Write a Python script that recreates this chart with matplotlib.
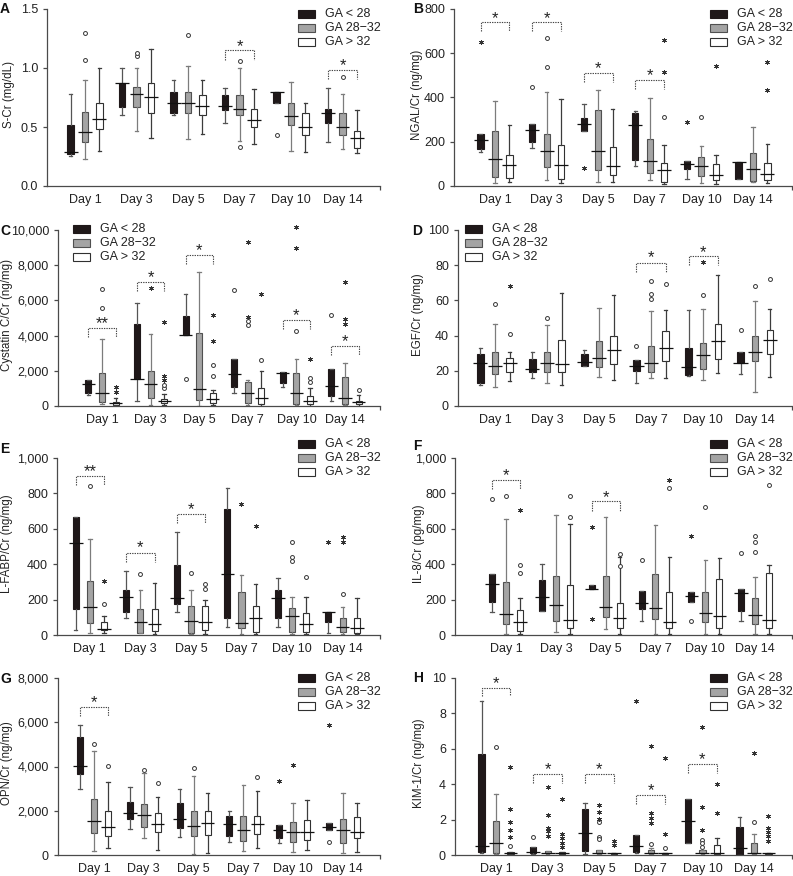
import matplotlib
matplotlib.use('Agg')
import matplotlib.pyplot as plt
from matplotlib.patches import Rectangle
import numpy as np

plt.rcParams['font.family'] = ['Liberation Sans', 'DejaVu Sans']

days = ['Day 1', 'Day 3', 'Day 5', 'Day 7', 'Day 10', 'Day 14']
groups = ['GA < 28', 'GA 28\u221232', 'GA > 32']

# ---------------- Panel A: S-Cr (mg/dL) ----------------
A_wlo = [[0.25, 0.60, 0.60, 0.53, 0.70, 0.37], [0.23, 0.47, 0.40, 0.38, 0.30, 0.31], [0.30, 0.41, 0.44, 0.36, 0.29, 0.28]]
A_q1 = [[0.27, 0.67, 0.62, 0.64, 0.70, 0.53], [0.37, 0.67, 0.62, 0.60, 0.52, 0.43], [0.48, 0.62, 0.60, 0.50, 0.43, 0.32]]
A_med = [[0.29, 0.87, 0.70, 0.68, 0.80, 0.62], [0.46, 0.78, 0.70, 0.65, 0.59, 0.50], [0.57, 0.75, 0.675, 0.56, 0.50, 0.41]]
A_q3 = [[0.52, 0.87, 0.80, 0.77, 0.80, 0.65], [0.63, 0.84, 0.80, 0.77, 0.70, 0.62], [0.70, 0.87, 0.77, 0.65, 0.62, 0.47]]
A_whi = [[0.78, 1.00, 0.90, 0.83, 0.80, 0.83], [0.90, 1.00, 1.02, 1.00, 0.88, 0.78], [1.00, 1.16, 0.90, 0.82, 0.70, 0.64]]
A_circ = [(0, 1, 1.30), (0, 1, 1.07), (1, 1, 1.10), (1, 1, 1.13), (2, 1, 1.28), (3, 1, 1.06), (3, 1, 0.33), (4, 0, 0.43), (5, 1, 0.92)]
A_star = []
A_sig = [(3, '*', 1.22, 1.15, 1.07), (5, '*', 1.06, 0.98, 0.91)]

# ---------------- Panel B: NGAL/Cr (ng/mg) ----------------
B_wlo = [[154, 174, 250, 89, 33, 30], [15, 26, 18, 26, 15, 18], [18, 15, 18, 11, 11, 14]]
B_q1 = [[165, 200, 250, 119, 76, 30], [41, 86, 74, 59, 44, 23], [38, 33, 48, 18, 26, 26]]
B_med = [[210, 253, 280, 275, 101, 107], [122, 156, 157, 112, 92, 79], [95, 94, 89, 74, 50, 53]]
B_q3 = [[233, 278, 308, 328, 113, 107], [248, 234, 343, 212, 129, 147], [142, 184, 177, 106, 98, 106]]
B_whi = [[233, 278, 369, 339, 113, 107], [384, 423, 434, 399, 183, 266], [274, 392, 346, 184, 142, 190]]
B_circ = [(1, 0, 449), (1, 1, 668), (1, 1, 540), (3, 2, 313), (4, 1, 313)]
B_star = [(0, 0, 649), (2, 0, 83), (3, 2, 517), (3, 2, 661), (4, 0, 290), (4, 2, 543), (5, 2, 562), (5, 2, 434)]
B_sig = [(0, '*', 780, 741, 699), (1, '*', 780, 741, 699), (2, '*', 555, 511, 472), (3, '*', 520, 479, 439)]

# ---------------- Panel C: Cystatin C/Cr (ng/mg) ----------------
C_wlo = [[620, 283, 4057, 717, 1057, 283], [132, 57, 0, 30, 30, 30], [38, 30, 57, 20, 20, 20]]
C_q1 = [[717, 1509, 4057, 1057, 1320, 566], [208, 434, 340, 150, 94, 94], [57, 150, 150, 94, 94, 94]]
C_med = [[1226, 1509, 4057, 1792, 1887, 1132], [755, 1226, 943, 717, 717, 434], [150, 302, 396, 434, 302, 207]]
C_q3 = [[1470, 4660, 5113, 2660, 1905, 2075], [1850, 1981, 4150, 1377, 1850, 1660], [208, 377, 717, 1000, 585, 302]]
C_whi = [[1470, 5850, 6377, 2660, 1905, 2075], [3830, 4075, 7600, 1470, 2660, 2415], [434, 660, 905, 2000, 1000, 622]]
C_circ = [(0, 1, 6660), (0, 1, 5566), (1, 2, 1000), (1, 2, 1180), (2, 0, 1509), (2, 2, 2320), (2, 2, 1717),
          (3, 0, 6566), (3, 1, 4811), (3, 1, 4623), (3, 2, 2600), (4, 1, 4245), (4, 2, 1566), (4, 2, 1377),
          (5, 0, 5190), (5, 2, 905)]
C_star = [(0, 2, 1057), (0, 2, 811), (1, 2, 1500), (1, 2, 1700), (1, 2, 4770), (1, 1, 6717), (2, 2, 5190), (2, 2, 3700),
          (3, 1, 9300), (3, 1, 5057), (3, 2, 6340), (4, 1, 10150), (4, 1, 8962), (4, 2, 2660),
          (5, 1, 7038), (5, 1, 4962), (5, 1, 4679)]
C_sig = [(0, '**', 4960, 4434, 3925), (1, '*', 7566, 7038, 6528), (2, '*', 9113, 8585, 8075),
         (4, '*', 5396, 4868, 4358), (5, '*', 3925, 3415, 2925)]

# ---------------- Panel D: EGF/Cr (ng/mg) ----------------
D_wlo = [[11.9, 15.7, 22.8, 13.2, 17.0, 18.1], [10.6, 12.8, 16.2, 15.7, 14.7, 8.1], [14.0, 11.9, 14.5, 15.7, 18.9, 16.6]]
D_q1 = [[12.8, 19.1, 22.8, 20.0, 17.5, 24.5], [18.1, 19.4, 22.3, 19.1, 20.9, 25.5], [19.4, 19.4, 23.8, 25.7, 26.6, 29.4]]
D_med = [[24.2, 20.9, 25.1, 22.6, 22.3, 24.5], [22.8, 24.5, 27.5, 24.2, 29.2, 30.4], [24.5, 23.8, 32.1, 33.2, 36.8, 37.4]]
D_q3 = [[29.8, 26.6, 29.8, 26.0, 33.0, 30.4], [30.4, 30.4, 37.2, 34.0, 36.0, 39.6], [27.5, 37.7, 39.8, 42.5, 46.8, 43.4]]
D_whi = [[33.2, 30.4, 31.7, 26.0, 54.3, 30.4], [46.8, 45.8, 55.8, 54.0, 55.0, 59.4], [30.8, 64.3, 63.2, 54.7, 74.5, 54.9]]
D_circ = [(0, 1, 58.1), (0, 2, 41.1), (1, 1, 49.8), (3, 0, 34.0), (3, 1, 70.8), (3, 1, 63.8), (3, 1, 60.9),
          (3, 2, 69.1), (4, 1, 63.2), (5, 0, 43.4), (5, 1, 68.0), (5, 2, 72.3)]
D_star = [(0, 2, 68.1), (4, 1, 81.7)]
D_sig = [(3, '*', 87.0, 81.3, 76.4), (4, '*', 90.2, 85.5, 80.2)]

# ---------------- Panel E: L-FABP/Cr (ng/mg) ----------------
E_wlo = [[28, 94, 132, 47, 47, 13], [13, 10, 8, 8, 8, 8], [9, 8, 8, 8, 8, 8]]
E_q1 = [[147, 132, 177, 94, 94, 72], [70, 13, 13, 38, 19, 19], [28, 23, 28, 19, 19, 13]]
E_med = [[519, 213, 208, 345, 208, 132], [160, 75, 79, 66, 108, 47], [32, 60, 72, 94, 60, 38]]
E_q3 = [[664, 255, 396, 711, 255, 132], [306, 147, 164, 241, 151, 98], [72, 147, 166, 164, 123, 98]]
E_whi = [[664, 362, 581, 830, 321, 132], [541, 255, 255, 340, 217, 160], [108, 296, 198, 289, 217, 208]]
E_circ = [(0, 1, 840), (0, 2, 175), (1, 1, 343), (2, 1, 349), (2, 2, 287), (2, 2, 258),
          (4, 1, 523), (4, 1, 443), (4, 1, 419), (4, 2, 325), (5, 1, 232)]
E_star = [(0, 2, 306), (3, 1, 741), (3, 2, 613), (5, 0, 523), (5, 1, 551), (5, 1, 528)]
E_sig = [(0, '**', 953, 896, 849), (1, '*', 519, 462, 415), (2, '*', 736, 683, 632)]

# ---------------- Panel F: IL-8/Cr (pg/mg) ----------------
F_wlo = [[132, 138, 258, 81, 185, 81], [5, 19, 32, 5, 5, 5], [5, 5, 5, 5, 5, 5]]
F_q1 = [[185, 138, 258, 145, 185, 138], [60, 81, 100, 89, 75, 60], [23, 38, 38, 42, 42, 38]]
F_med = [[287, 213, 258, 183, 221, 236], [117, 170, 157, 151, 126, 113], [75, 85, 94, 75, 108, 85]]
F_q3 = [[343, 311, 281, 251, 245, 258], [298, 334, 336, 343, 242, 208], [142, 281, 183, 242, 317, 353]]
F_whi = [[343, 400, 281, 251, 245, 258], [655, 679, 664, 623, 425, 325], [208, 628, 438, 443, 434, 396]]
F_circ = [(0, 0, 768), (0, 1, 783), (0, 2, 396), (0, 2, 349), (1, 2, 783), (1, 2, 666), (2, 2, 457), (2, 2, 392),
          (3, 0, 425), (3, 2, 830), (4, 0, 81), (4, 1, 723), (5, 0, 466), (5, 1, 557), (5, 1, 525), (5, 1, 468),
          (5, 2, 849)]
F_star = [(0, 2, 704), (2, 0, 608), (2, 0, 89), (3, 2, 874), (4, 0, 560)]
F_sig = [(0, '*', 928, 877, 826), (2, '*', 806, 755, 702)]

# ---------------- Panel G: OPN/Cr (ng/mg) ----------------
G_wlo = [[2974, 1177, 800, 574, 528, 1132], [196, 785, 30, 196, 151, 75], [302, 226, 106, 302, 226, 151]]
G_q1 = [[3668, 1630, 1238, 875, 755, 1132], [1011, 1283, 875, 649, 604, 558], [875, 1057, 906, 936, 679, 755]]
G_med = [[4030, 1887, 1615, 1404, 1132, 1253], [1540, 1811, 1313, 1132, 1026, 1132], [1283, 1404, 1434, 1404, 1057, 1057]]
G_q3 = [[5313, 2415, 2340, 1781, 1358, 1434], [2521, 2294, 1992, 1781, 1479, 1630], [2008, 1917, 1992, 1781, 1585, 1706]]
G_whi = [[5857, 3064, 2974, 1992, 1358, 1434], [4679, 3698, 3592, 3170, 2340, 2792], [3290, 2642, 2792, 2913, 2490, 2340]]
G_circ = [(0, 1, 5011), (0, 2, 4030), (1, 1, 3849), (1, 2, 3275), (2, 1, 3925), (3, 2, 3517), (5, 0, 574)]
G_star = [(4, 0, 3351), (4, 1, 4075), (5, 0, 5887)]
G_sig = [(0, '*', 7094, 6672, 6294)]

# ---------------- Panel H: KIM-1/Cr (ng/mg) ----------------
H_wlo = [[0.09, 0.06, 0.06, 0.09, 0.70, 0.0], [0.06, 0.06, 0.06, 0.06, 0.06, 0.06], [0.06, 0.06, 0.06, 0.06, 0.06, 0.06]]
H_q1 = [[0.15, 0.13, 0.23, 0.19, 0.70, 0.0], [0.09, 0.09, 0.09, 0.09, 0.09, 0.09], [0.06, 0.08, 0.08, 0.08, 0.06, 0.06]]
H_med = [[0.53, 0.15, 1.23, 0.53, 1.91, 0.38], [0.66, 0.13, 0.13, 0.13, 0.13, 0.13], [0.13, 0.11, 0.11, 0.09, 0.09, 0.09]]
H_q3 = [[5.72, 0.47, 2.58, 1.13, 3.15, 1.57], [1.92, 0.23, 0.28, 0.28, 0.28, 0.66], [0.19, 0.15, 0.13, 0.13, 0.57, 0.13]]
H_whi = [[8.72, 0.47, 2.92, 1.13, 3.15, 2.17], [3.45, 0.23, 0.28, 0.38, 0.28, 1.19], [0.19, 0.15, 0.13, 0.13, 0.94, 0.13]]
H_circ = [(0, 1, 6.08), (0, 2, 0.53), (1, 0, 1.04), (2, 1, 1.89), (2, 1, 1.04), (2, 1, 0.89), (3, 1, 0.62),
          (3, 2, 0.38), (4, 1, 0.85), (4, 1, 0.66), (4, 1, 0.47), (5, 1, 1.85)]
H_star = [(0, 2, 1.00), (0, 2, 1.42), (0, 2, 1.85), (0, 2, 2.60), (0, 2, 4.96),
          (1, 1, 3.87), (1, 1, 2.26), (1, 1, 1.55), (1, 1, 1.35), (1, 1, 1.10),
          (1, 2, 3.17), (1, 2, 1.19), (1, 2, 0.94), (1, 2, 0.70), (1, 2, 0.47),
          (2, 1, 2.83), (2, 1, 2.45), (2, 1, 2.04), (2, 2, 0.79), (2, 2, 0.57),
          (3, 0, 8.72), (3, 1, 6.17), (3, 1, 2.40), (3, 1, 2.08), (3, 1, 1.79), (3, 2, 5.47), (3, 2, 1.17),
          (4, 1, 1.42), (4, 1, 2.70), (4, 1, 7.23), (4, 2, 2.36), (4, 2, 4.02),
          (5, 1, 5.75), (5, 2, 2.23), (5, 2, 1.51), (5, 2, 1.32), (5, 2, 1.09), (5, 2, 0.79)]
H_sig = [(0, '*', 9.96, 9.43, 8.96), (1, '*', 5.13, 4.58, 4.09), (2, '*', 5.13, 4.58, 4.09),
         (3, '*', 3.91, 3.40, 2.89), (4, '*', 5.66, 5.15, 4.66)]

A_yt = [0.0, 0.5, 1.0, 1.5]
B_yt = [0, 200, 400, 600, 800]
C_yt = [0, 2000, 4000, 6000, 8000, 10000]
D_yt = [0, 20, 40, 60, 80, 100]
E_yt = [0, 200, 400, 600, 800, 1000]
F_yt = [0, 200, 400, 600, 800, 1000]
G_yt = [0, 2000, 4000, 6000, 8000]
H_yt = [0, 2, 4, 6, 8, 10]

# ---------------- layout / style ----------------
W, H = 793, 876
fig = plt.figure(figsize=(W / 100, H / 100), dpi=100)

OFF = [-0.28, 0.0, 0.28]
FACE = ['#1f1819', '#a4a4a4', '#ffffff']
EDGE = ['#1f1819', '#505050', '#303030']
WHISK = ['#555555', '#7c7c7c', '#3c3c3c']
AXC = '#4a4a4a'


def fig_rect(l, r, t, b):
    return [l / W, 1 - b / H, (r - l) / W, (b - t) / H]


def fmt_tick(v, style):
    if style == 'dec':
        return f'{v:.1f}'
    return f'{int(v):,}'


def draw_panel(letter, ylabel, wlo, q1, med, q3, whi, circ, star, sig, yt, style,
               l, r, t, b, xl, leg_x, leg_y, lab_x):
    ax = fig.add_axes(fig_rect(l, r, t, b))
    for g in range(3):
        pos = np.arange(1, 7) + OFF[g]
        st = [dict(med=med[g][d], q1=q1[g][d], q3=q3[g][d], whislo=wlo[g][d], whishi=whi[g][d], fliers=[])
              for d in range(6)]
        ax.bxp(st, positions=pos, widths=0.12, capwidths=0.07, patch_artist=True, showfliers=False,
               manage_ticks=False,
               boxprops=dict(facecolor=FACE[g], edgecolor=EDGE[g], linewidth=0.8),
               whiskerprops=dict(color=WHISK[g], linewidth=0.9),
               capprops=dict(color=WHISK[g], linewidth=0.9),
               medianprops=dict(linewidth=0))
        ax.hlines(med[g], pos - 0.135, pos + 0.135, colors='#111111', linewidth=0.9, zorder=4)
    for d, g, v in circ:
        ax.plot(d + 1 + OFF[g], v, marker='o', ms=2.8, mfc='white', mec='#333333', mew=0.7,
                ls='none', clip_on=False, zorder=5)
    for d, g, v in star:
        ax.plot(d + 1 + OFF[g], v, marker=(6, 2, 0), ms=3.4, color='#333333', mew=0.6,
                ls='none', clip_on=False, zorder=5)
    for d, lab, ys, ytop, yend in sig:
        x0, x1 = d + 1 + OFF[0], d + 1 + OFF[2]
        ax.plot([x0, x0, x1, x1], [yend, ytop, ytop, yend], ls=(0, (1.2, 1.0)), color='#444444',
                lw=0.8, clip_on=False)
        ax.annotate(lab, xy=((x0 + x1) / 2, ys), xytext=(0, -6.8), textcoords='offset points',
                    ha='center', va='baseline', fontsize=12, color='#222222', annotation_clip=False)
    ax.set_xlim(*xl)
    ax.set_ylim(yt[0], yt[-1])
    ax.set_yticks(yt)
    ax.set_yticklabels([fmt_tick(v, style) for v in yt], fontsize=9, color='#222222')
    ax.set_xticks(np.arange(1, 7))
    ax.set_xticklabels(days, fontsize=9, color='#222222')
    ax.tick_params(axis='x', length=0, pad=6)
    ax.tick_params(axis='y', length=3, width=0.9, color=AXC, pad=3.5)
    ax.set_xticks([xl[1]], minor=True)
    ax.tick_params(axis='x', which='minor', length=3, width=0.9, color=AXC)
    for s in ['top', 'right']:
        ax.spines[s].set_visible(False)
    for s in ['left', 'bottom']:
        ax.spines[s].set_color(AXC)
        ax.spines[s].set_linewidth(0.9)
    # panel letter and y label
    fig.text(lab_x[0] / W, 1 - lab_x[1] / H, letter, fontsize=10, fontweight='bold',
             ha='left', va='top', color='#111111')
    fig.text(lab_x[2] / W, 1 - ((t + b) / 2 - 3) / H, ylabel, rotation=90, fontsize=8.3,
             ha='center', va='center', color='#222222')
    # legend
    for i in range(3):
        yy = leg_y + 14 * i
        fig.add_artist(Rectangle((leg_x / W, 1 - (yy + 4) / H), 17 / W, 8 / H, transform=fig.transFigure,
                                 facecolor=FACE[i], edgecolor=EDGE[i], linewidth=0.8))
        fig.text((leg_x + 27) / W, 1 - yy / H, groups[i], fontsize=9, ha='left', va='center',
                 color='#222222')
    return ax


draw_panel('A', 'S-Cr (mg/dL)', A_wlo, A_q1, A_med, A_q3, A_whi, A_circ, A_star, A_sig, A_yt, 'dec',
           47, 380, 9, 186, (0.262, 6.728), 298, 14, (0, 2, 9))
draw_panel('B', 'NGAL/Cr (ng/mg)', B_wlo, B_q1, B_med, B_q3, B_whi, B_circ, B_star, B_sig, B_yt, 'int',
           454, 792, 9, 186, (0.205, 6.756), 710, 14, (413, 2, 417))
draw_panel('C', 'Cystatin C/Cr (ng/mg)', C_wlo, C_q1, C_med, C_q3, C_whi, C_circ, C_star, C_sig, C_yt, 'int',
           58, 380, 230, 406, (0.095, 6.72), 73, 229, (0, 224, 7))
draw_panel('D', 'EGF/Cr (ng/mg)', D_wlo, D_q1, D_med, D_q3, D_whi, D_circ, D_star, D_sig, D_yt, 'int',
           458, 792, 230, 406, (0.288, 6.71), 465, 229, (412, 224, 418))
draw_panel('E', 'L-FABP/Cr (ng/mg)', E_wlo, E_q1, E_med, E_q3, E_whi, E_circ, E_star, E_sig, E_yt, 'int',
           57, 380, 458, 635, (0.35, 6.74), 298, 444, (0, 442, 7))
draw_panel('F', 'IL-8/Cr (pg/mg)', F_wlo, F_q1, F_med, F_q3, F_whi, F_circ, F_star, F_sig, F_yt, 'int',
           455, 792, 458, 635, (-0.024, 6.74), 710, 444, (413, 439, 419))
draw_panel('G', 'OPN/Cr (ng/mg)', G_wlo, G_q1, G_med, G_q3, G_whi, G_circ, G_star, G_sig, G_yt, 'int',
           58, 380, 678, 855, (0.277, 6.743), 298, 678, (0, 672, 7))
draw_panel('H', 'KIM-1/Cr (ng/mg)', H_wlo, H_q1, H_med, H_q3, H_whi, H_circ, H_star, H_sig, H_yt, 'int',
           455, 792, 678, 855, (0.205, 6.736), 710, 678, (413, 671, 419))

fig.savefig('out.png', dpi=100)
